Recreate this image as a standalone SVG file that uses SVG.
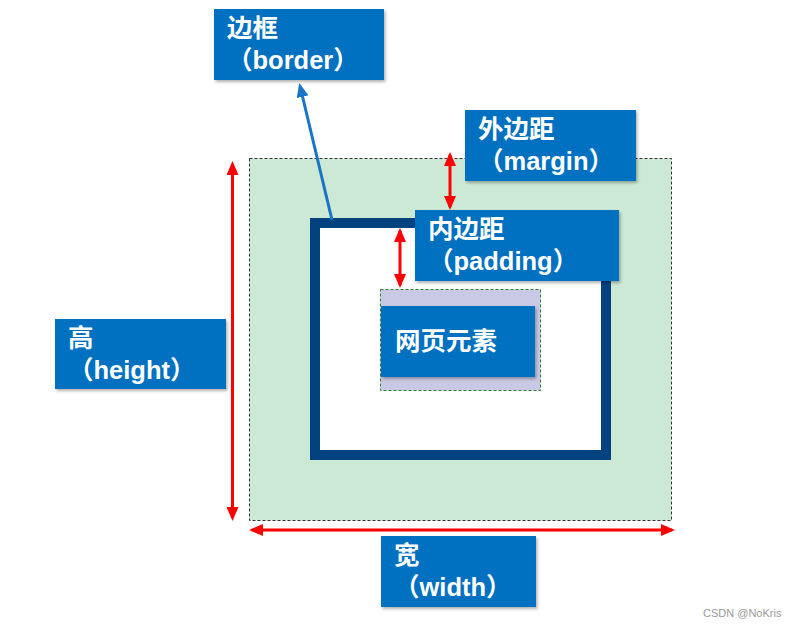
<svg xmlns="http://www.w3.org/2000/svg" width="797" height="626" viewBox="0 0 797 626">
<style>
.lbl{fill:#0070C0;filter:url(#sh)}
.t{font-family:"Liberation Sans","Noto Sans CJK SC",sans-serif;font-weight:bold;font-size:25.5px;fill:#fff}
.red{stroke:#FF0000;stroke-width:3;fill:none;marker-start:url(#rh);marker-end:url(#rh)}
</style>
<defs>
<filter id="sh" x="-10%" y="-10%" width="125%" height="135%">
<feDropShadow dx="1.5" dy="2" stdDeviation="1.5" flood-color="#000" flood-opacity="0.3"/>
</filter>
<marker id="rh" markerUnits="userSpaceOnUse" markerWidth="14" markerHeight="12" refX="11" refY="6" orient="auto-start-reverse">
<path d="M0,0 L14,6 L0,12 z" fill="#FF0000"/>
</marker>
<marker id="bh" markerUnits="userSpaceOnUse" markerWidth="14" markerHeight="12" refX="11" refY="6" orient="auto">
<path d="M0,0 L14,6 L0,12 z" fill="#1874C4"/>
</marker>
</defs>
<rect width="797" height="626" fill="#fff"/>
<g id="margin">
<rect x="249.5" y="158.5" width="422" height="362" fill="#CCE9D5" stroke="#333" stroke-width="1" stroke-dasharray="3,2"/>
</g>
<g id="border">
<rect x="315" y="223" width="291" height="232" fill="#fff" stroke="#02427F" stroke-width="10"/>
</g>
<g id="content">
<rect x="380.5" y="289.5" width="160" height="101" fill="#C9C9E5" stroke="#2E7D32" stroke-width="1" stroke-dasharray="3,2"/>
</g>
<g id="element">
<rect class="lbl" x="381" y="306" width="154" height="71"/>
<text class="t" x="395" y="350">网页元素</text>
</g>
<g id="label-border">
<rect class="lbl" x="214" y="9" width="170" height="71"/>
<text class="t" x="227" y="37">边框</text>
<text class="t" x="227" y="69">（border）</text>
</g>
<g id="label-margin">
<rect class="lbl" x="465" y="110" width="171" height="71"/>
<text class="t" x="478" y="138">外边距</text>
<text class="t" x="478" y="170">（margin）</text>
</g>
<g id="label-padding">
<rect class="lbl" x="415" y="210" width="204" height="71"/>
<text class="t" x="428" y="238">内边距</text>
<text class="t" x="428" y="270">（padding）</text>
</g>
<g id="label-height">
<rect class="lbl" x="55" y="319" width="171" height="70"/>
<text class="t" x="68" y="347">高</text>
<text class="t" x="68" y="379">（height）</text>
</g>
<g id="label-width">
<rect class="lbl" x="381" y="536" width="155" height="71"/>
<text class="t" x="394" y="564">宽</text>
<text class="t" x="394" y="596">（width）</text>
</g>
<g id="connectors">
<line class="red" x1="232.5" y1="164" x2="232.5" y2="518"/>
<line class="red" x1="252" y1="530" x2="672" y2="530"/>
<line class="red" x1="450" y1="155" x2="450" y2="207"/>
<line class="red" x1="400" y1="231" x2="400" y2="285"/>
<line x1="332" y1="220" x2="300" y2="86" stroke="#1874C4" stroke-width="3" marker-end="url(#bh)"/>
</g>
<text x="703" y="617" font-family="Liberation Sans, sans-serif" font-size="11" fill="#999">CSDN @NoKris</text>
</svg>
